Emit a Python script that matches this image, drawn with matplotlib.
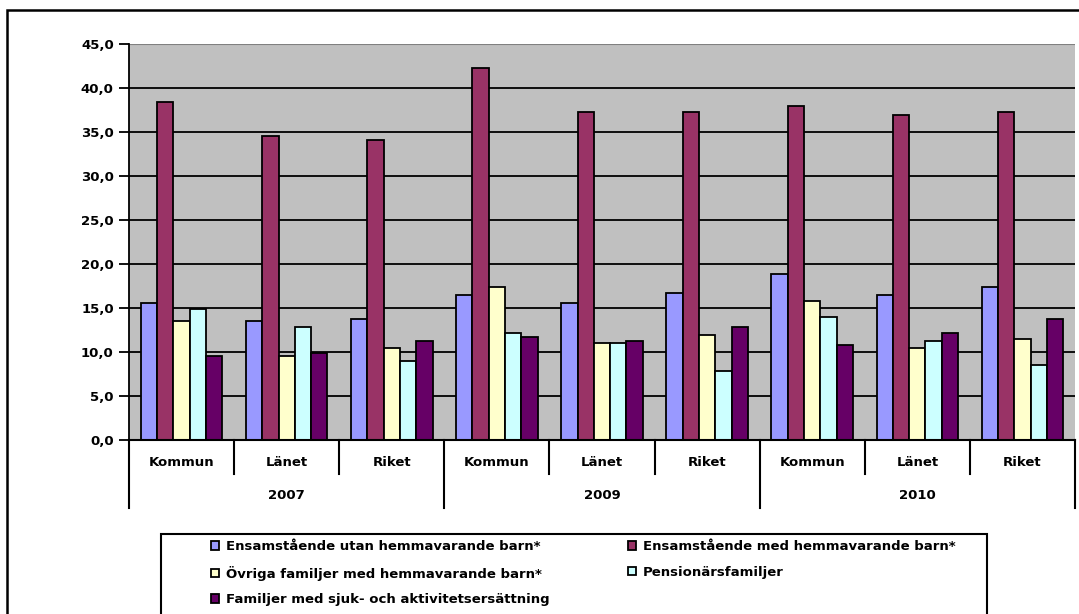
import matplotlib
matplotlib.use("Agg")
from matplotlib import pyplot as plt
from matplotlib.patches import Rectangle
import numpy as np

years = ['2007', '2009', '2010']
areas = ['Kommun', 'Länet', 'Riket']

series_names = [
    'Ensamstående utan hemmavarande barn*',
    'Ensamstående med hemmavarande barn*',
    'Övriga familjer med hemmavarande barn*',
    'Pensionärsfamiljer',
    'Familjer med sjuk- och aktivitetsersättning',
]

# values per category: 2007 K/L/R, 2009 K/L/R, 2010 K/L/R
utan_barn = [15.6, 13.5, 13.8, 16.5, 15.6, 16.7, 18.9, 16.5, 17.4]
med_barn = [38.4, 34.5, 34.1, 42.3, 37.3, 37.3, 38.0, 36.9, 37.3]
ovriga = [13.5, 9.5, 10.4, 17.4, 11.0, 11.9, 15.8, 10.4, 11.5]
pension = [14.9, 12.8, 9.0, 12.2, 11.0, 7.8, 14.0, 11.3, 8.5]
sjuk = [9.5, 9.9, 11.3, 11.7, 11.3, 12.8, 10.8, 12.2, 13.8]

colors = ['#9999FF', '#993366', '#FFFFCC', '#CCFFFF', '#660066']
yticks = [0, 5, 10, 15, 20, 25, 30, 35, 40, 45]

all_series = [utan_barn, med_barn, ovriga, pension, sjuk]

W, H = 1079, 614
fig = plt.figure(figsize=(W / 100, H / 100), dpi=100)
plt.rcParams['font.family'] = ['DejaVu Sans']

# outer chart frame
fig.patches.append(Rectangle((7 / W, -0.1), 1.2, 1 - 10 / H + 0.1, transform=fig.transFigure,
                             fill=False, edgecolor='black', linewidth=1.8))

ax = fig.add_axes([129 / W, 1 - 440 / H, (1075 - 129) / W, 396 / H])
ax.set_facecolor('#C0C0C0')

n_cat = len(years) * len(areas)
x = np.arange(n_cat)
bw = 0.155
for i, (vals, col, name) in enumerate(zip(all_series, colors, series_names)):
    ax.bar(x + (i - 2) * bw, vals, width=bw, color=col, edgecolor='black',
           linewidth=1.3, label=name, zorder=3)

ax.set_xlim(-0.5, n_cat - 0.5)
ax.set_ylim(0, 45)
ax.set_yticks(yticks)
ax.set_yticklabels([f'{v:.1f}'.replace('.', ',') for v in yticks],
                   fontsize=9.5, fontweight='bold')
ax.tick_params(axis='y', length=7, width=1.3, direction='out', pad=4)
ax.set_xticks([])
for v in yticks[1:-1]:
    ax.axhline(v, color='black', linewidth=1.3, zorder=1)
ax.axhline(45, color='#808080', linewidth=0.8, zorder=1)

for side in ['top', 'right']:
    ax.spines[side].set_visible(False)
ax.spines['left'].set_linewidth(1.3)
ax.spines['bottom'].set_linewidth(1.5)
ax.spines['bottom'].set_zorder(4)

# two-level category axis
trans = ax.get_xaxis_transform()
for k in range(n_cat + 1):
    xe = k - 0.5
    y_end = -0.172 if k % 3 == 0 else -0.086
    ax.plot([xe, xe], [0, y_end], color='black', linewidth=1.5,
            transform=trans, clip_on=False)
for k in range(n_cat):
    ax.text(k, -0.058, areas[k % 3], transform=trans, ha='center', va='center',
            fontsize=9.5, fontweight='bold')
for j, yr in enumerate(years):
    ax.text(j * 3 + 1, -0.139, yr, transform=trans, ha='center', va='center',
            fontsize=9.5, fontweight='bold')

# legend box
fig.patches.append(Rectangle((161 / W, -0.1), (987 - 161) / W, 1 - 534 / H + 0.1,
                             transform=fig.transFigure, fill=False,
                             edgecolor='black', linewidth=1.5))
handles, labels = ax.get_legend_handles_labels()
order = [0, 2, 4, 1, 3]
leg = fig.legend([handles[i] for i in order], [labels[i] for i in order],
                 loc='upper left', bbox_to_anchor=(211 / W, 1 - 540 / H),
                 ncol=2, frameon=False, fontsize=9.5, handlelength=0.6,
                 handleheight=0.6, handletextpad=0.5, columnspacing=6.0,
                 labelspacing=0.95, borderpad=0, borderaxespad=0)
for t in leg.get_texts():
    t.set_fontweight('bold')

plt.savefig('out.png', dpi=100)
